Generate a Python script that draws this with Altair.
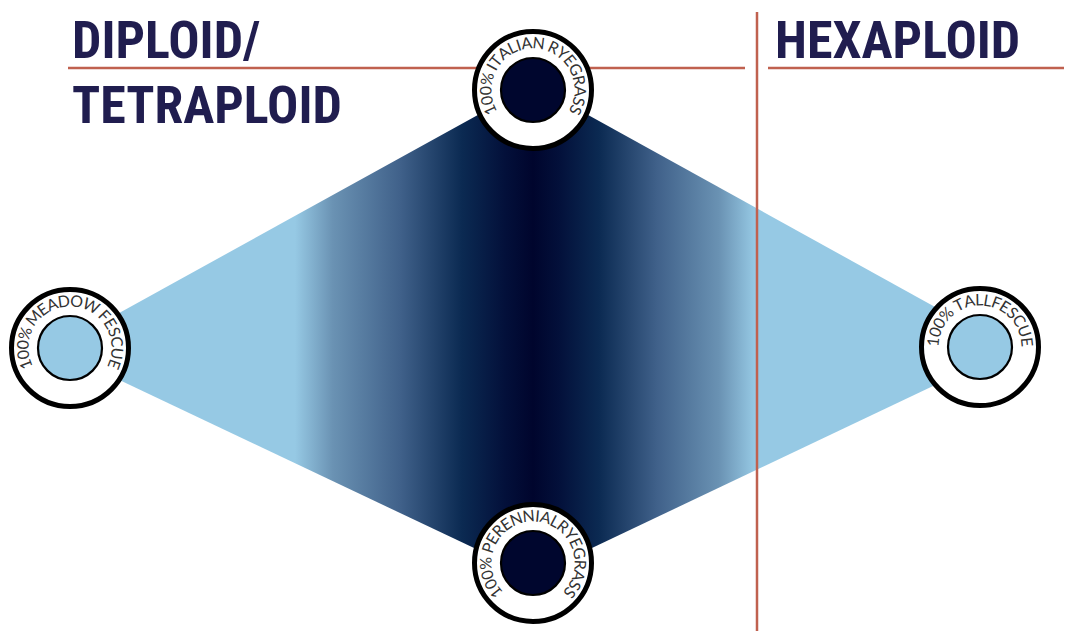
import altair as alt
import numpy as np
import pandas as pd

# ---- data ----
# the four "pure stand" nodes of the diagram
node_labels = ["100% ITALIAN RYEGRASS", "100% MEADOW FESCUE", "100% TALLFESCUE", "100% PERENNIALRYEGRASS"]
node_x = [533, 70, 980, 533]
node_y = [90, 348, 347, 563]
node_fill = ["#00062e", "#96c9e4", "#96c9e4", "#00062e"]

# diamond (mixture space) outline: x, upper edge, lower edge
diamond_x = [54, 533, 1011]
diamond_top = [349, 84.5, 349]
diamond_bottom = [349, 576, 349]

# colour ramp across the diamond (x position -> colour)
ramp_x = [54, 295, 333, 400, 462, 505, 533, 559, 599, 657, 719, 755, 1011]
ramp_colors = ["#96c9e4", "#96c9e4", "#6a92b3", "#40618a", "#0b2a52", "#03103a", "#00052d",
               "#03103a", "#0b2a52", "#40618a", "#6a92b3", "#96c9e4", "#96c9e4"]

# section headings
heading_text = ["DIPLOID/", "TETRAPLOID", "HEXAPLOID"]
heading_x = [72, 72, 775]
heading_y = [58, 123, 58]

# divider lines
hline_x = [68, 768]
hline_x2 = [745, 1072]
hline_y = [68, 68]
vline_x = [757]
vline_y = [12]
vline_y2 = [639]

# ---- derived tables ----
X = alt.Scale(domain=[8, 1064])
Y = alt.Scale(domain=[8, 631], reverse=True)

nodes = pd.DataFrame({"label": node_labels, "x": node_x, "y": node_y, "fill": node_fill})
diamond = pd.DataFrame({"x": diamond_x, "top": diamond_top, "bottom": diamond_bottom})
headings = pd.DataFrame({"text": heading_text, "x": heading_x, "y": heading_y})
hlines = pd.DataFrame({"x": hline_x, "x2": hline_x2, "y": hline_y})
vlines = pd.DataFrame({"x": vline_x, "y": vline_y, "y2": vline_y2})

span = diamond_x[-1] - diamond_x[0]
stops = [alt.GradientStop(color=c, offset=(v - diamond_x[0]) / span) for v, c in zip(ramp_x, ramp_colors)]

# approximate Lato glyph advance widths (per 1000 em)
LATO_W = {"1": 580, "0": 580, "%": 800, " ": 193, "A": 680, "C": 670, "D": 750, "E": 570,
          "F": 550, "G": 720, "I": 280, "L": 500, "M": 880, "N": 760, "O": 800, "P": 600,
          "R": 620, "S": 530, "T": 600, "U": 730, "W": 1000, "Y": 630}
FS = 16
TRACK = 0.5
R_TEXT = 46.5

rows = []
for lab, cx, cy in zip(node_labels, node_x, node_y):
    w = np.array([LATO_W.get(c, 600) / 1000 * FS + TRACK for c in lab])
    pos = np.cumsum(w) - w / 2 - w.sum() / 2
    theta = pos / R_TEXT
    for ch, t in zip(lab, theta):
        rows.append({"ch": ch, "x": cx + R_TEXT * np.sin(t), "y": cy - R_TEXT * np.cos(t),
                     "angle": float(np.degrees(t) % 360)})
chars = pd.DataFrame(rows)

# ---- layers ----
area = alt.Chart(diamond).mark_area(
    interpolate="linear",
    color=alt.Gradient(gradient="linear", stops=stops, x1=0, x2=1, y1=0, y2=0),
).encode(
    x=alt.X("x:Q", scale=X, axis=None),
    y=alt.Y("top:Q", scale=Y, axis=None),
    y2="bottom:Q",
)

hrule = alt.Chart(hlines).mark_rule(color="#c0614f", strokeWidth=2.5).encode(
    x=alt.X("x:Q", scale=X), x2="x2:Q", y=alt.Y("y:Q", scale=Y)
)
vrule = alt.Chart(vlines).mark_rule(color="#c0614f", strokeWidth=2.5).encode(
    x=alt.X("x:Q", scale=X), y=alt.Y("y:Q", scale=Y), y2="y2:Q"
)

outer = alt.Chart(nodes).mark_circle(size=117 * 117, color="white", stroke="black",
                                     strokeWidth=5, opacity=1).encode(
    x=alt.X("x:Q", scale=X), y=alt.Y("y:Q", scale=Y)
)
inner = alt.Chart(nodes).mark_circle(size=64 * 64, stroke="black", strokeWidth=2.2, opacity=1).encode(
    x=alt.X("x:Q", scale=X), y=alt.Y("y:Q", scale=Y),
    fill=alt.Fill("fill:N", scale=None),
)

ring_text = alt.Chart(chars).mark_text(font="Lato", fontSize=FS, color="#333333",
                                       align="center", baseline="middle").encode(
    x=alt.X("x:Q", scale=X), y=alt.Y("y:Q", scale=Y),
    text="ch:N", angle=alt.Angle("angle:Q", scale=None),
)

titles = alt.Chart(headings).mark_text(
    font="Roboto Condensed, Liberation Sans Narrow, Arial Narrow, DejaVu Sans Condensed, sans-serif",
    fontWeight="bold", fontSize=52, color="#201d4f", align="left", baseline="alphabetic",
).encode(
    x=alt.X("x:Q", scale=X), y=alt.Y("y:Q", scale=Y), text="text:N"
)

chart = alt.layer(area, vrule, hrule, outer, inner, ring_text, titles).properties(
    width=1056, height=623, padding=0,
    autosize=alt.AutoSizeParams(type="none"),
).configure_view(stroke=None)

chart.save("out.html", embed_options={"renderer": "svg", "actions": False})
